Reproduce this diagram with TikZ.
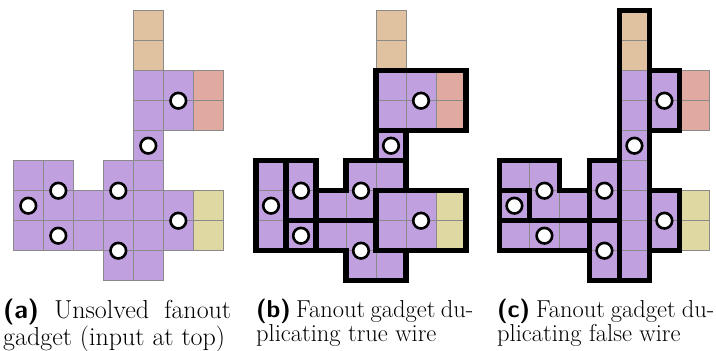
\documentclass[tikz,border=0pt]{standalone}
\usetikzlibrary{positioning}

\definecolor{wirepurple}{RGB}{193,160,224}
\definecolor{inputtan}{RGB}{225,194,160}
\definecolor{outred}{RGB}{225,170,160}
\definecolor{outyellow}{RGB}{224,216,162}
\definecolor{cellgray}{RGB}{138,138,138}

\tikzset{
    cell/.style={draw=cellgray, line width=1pt},
    region/.style={draw=black, line width=5.5pt},
    dot/.style={draw=black, fill=white, line width=2.6pt},
    subcap/.style={anchor=north west, inner sep=0pt, align=justify,
        font=\fontsize{26}{22}\selectfont},
}
\tolerance=9999

% the fanout gadget, cells and circles, same for all three panels
\newcommand{\fanoutcells}{%
    \foreach \c/\r in {4/0,4/1}
        \draw[cell,fill=inputtan] (\c,\r) rectangle ++(1,1);
    \foreach \c/\r in {4/2,5/2,4/3,5/3,4/4,0/5,1/5,3/5,4/5,
                       0/6,1/6,2/6,3/6,4/6,5/6,0/7,1/7,2/7,3/7,4/7,5/7,3/8,4/8}
        \draw[cell,fill=wirepurple] (\c,\r) rectangle ++(1,1);
    \foreach \c/\r in {6/2,6/3}
        \draw[cell,fill=outred] (\c,\r) rectangle ++(1,1);
    \foreach \c/\r in {6/6,6/7}
        \draw[cell,fill=outyellow] (\c,\r) rectangle ++(1,1);
}
\newcommand{\fanoutdots}{%
    \foreach \p in {(5.5,3),(4.5,4.5),(1.5,6),(0.5,6.5),(3.5,6),(1.5,7.5),(5.5,7),(3.5,8)}
        \draw[dot] \p circle[radius=7.8pt];
}

\begin{document}
\begin{tikzpicture}[x=1pt,y=-1pt]
    \useasboundingbox (0,0) rectangle (716,351);

    % (a) unsolved
    \begin{scope}[shift={(13.3pt,-10.7pt)},x=30pt,y=-30pt]
        \fanoutcells
        \fanoutdots
    \end{scope}

    % (b) true wire
    \begin{scope}[shift={(256pt,-10.7pt)},x=30pt,y=-30pt]
        \fanoutcells
        \draw[region] (4,2) -- (7,2) -- (7,4) -- (4,4) -- cycle;
        \draw[region] (4,4) -- (5,4) -- (5,5) -- (4,5) -- cycle;
        \draw[region] (0,5) -- (1,5) -- (1,8) -- (0,8) -- cycle;
        \draw[region] (1,5) -- (2,5) -- (2,7) -- (1,7) -- cycle;
        \draw[region] (1,7) -- (2,7) -- (2,8) -- (1,8) -- cycle;
        \draw[region] (3,5) -- (5,5) -- (5,6) -- (4,6) -- (4,7) -- (2,7) -- (2,6) -- (3,6) -- cycle;
        \draw[region] (2,7) -- (4,7) -- (4,8) -- (5,8) -- (5,9) -- (3,9) -- (3,8) -- (2,8) -- cycle;
        \draw[region] (4,6) -- (7,6) -- (7,8) -- (4,8) -- cycle;
        \fanoutdots
    \end{scope}

    % (c) false wire
    \begin{scope}[shift={(499.4pt,-10.7pt)},x=30pt,y=-30pt]
        \fanoutcells
        \draw[region] (4,0) -- (5,0) -- (5,9) -- (4,9) -- cycle;
        \draw[region] (5,2) -- (6,2) -- (6,4) -- (5,4) -- cycle;
        \draw[region] (0,5) -- (2,5) -- (2,6) -- (3,6) -- (3,7) -- (1,7) -- (1,6) -- (0,6) -- cycle;
        \draw[region] (0,6) -- (1,6) -- (1,7) -- (0,7) -- cycle;
        \draw[region] (3,5) -- (4,5) -- (4,7) -- (3,7) -- cycle;
        \draw[region] (0,7) -- (3,7) -- (3,8) -- (0,8) -- cycle;
        \draw[region] (3,7) -- (4,7) -- (4,9) -- (3,9) -- cycle;
        \draw[region] (5,6) -- (6,6) -- (6,8) -- (5,8) -- cycle;
        \fanoutdots
    \end{scope}

    % captions
    \node[subcap, text width=228pt] (capa) at (3,298.5)
        {\textbf{\sffamily (a)} Unsolved fanout\linebreak gadget (input at top)};
    \node[subcap, text width=217pt, font=\fontsize{24.5}{22}\selectfont] (capb) at (256,299)
        {\textbf{\sffamily (b)} Fanout gadget du-\linebreak plicating true wire};
    \node[subcap, text width=217pt, font=\fontsize{24.5}{22}\selectfont] (capc) at (497,299)
        {\textbf{\sffamily (c)} Fanout gadget du-\linebreak plicating false wire};
\end{tikzpicture}
\end{document}
